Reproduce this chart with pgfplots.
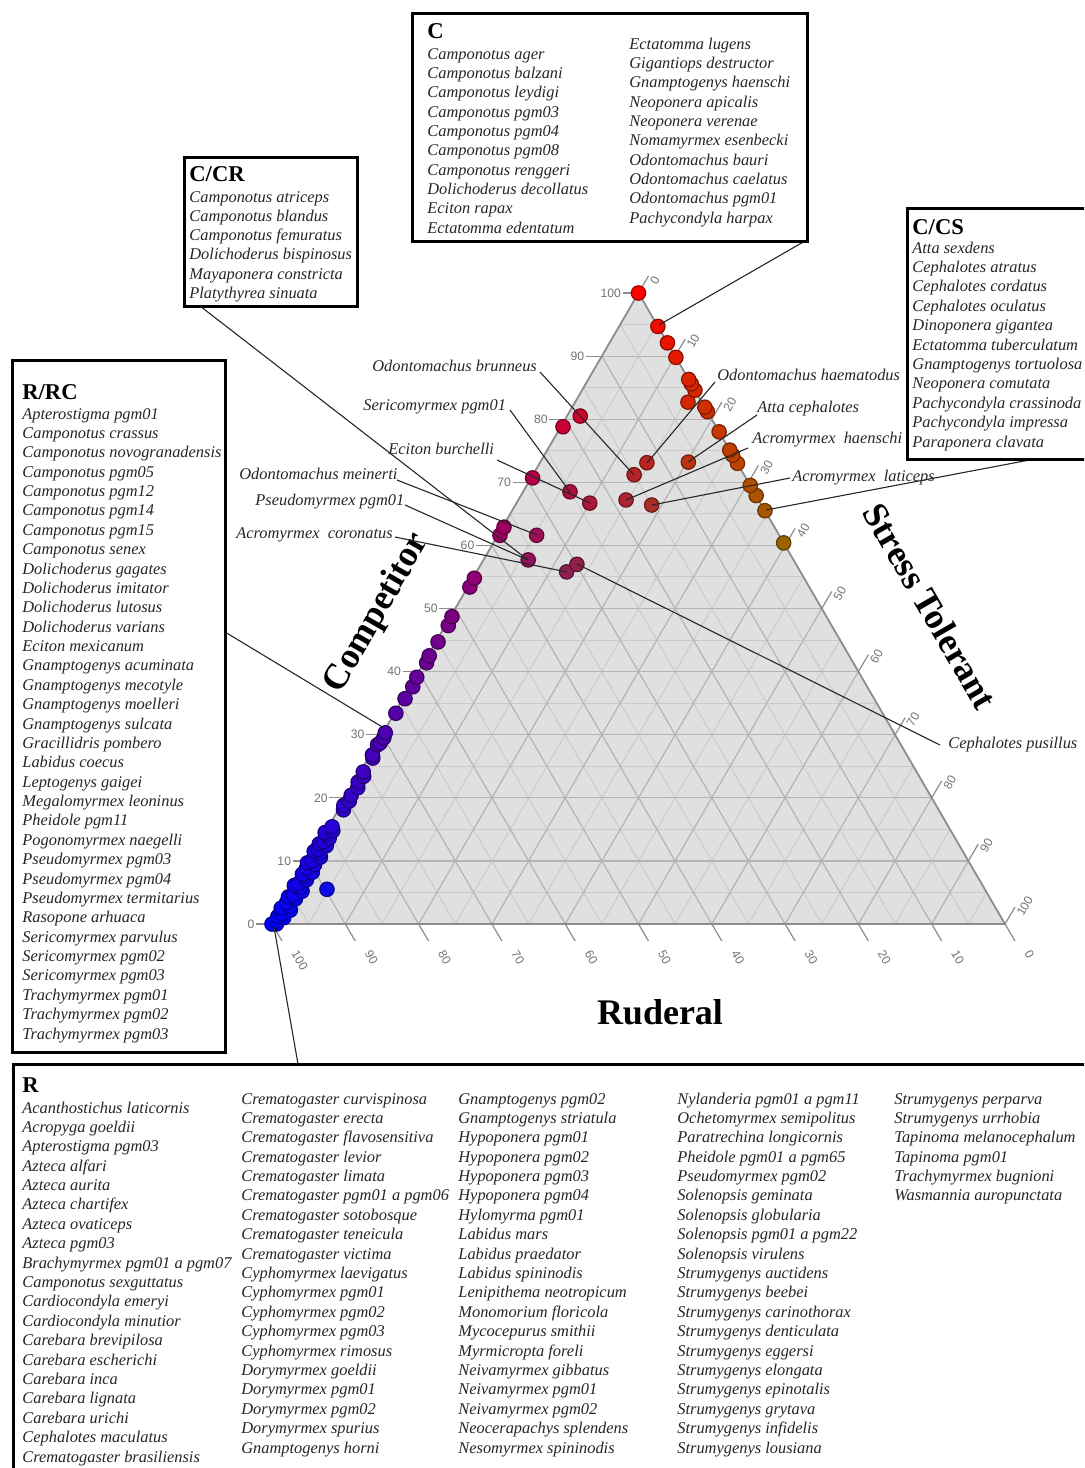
\documentclass[border=0pt]{standalone}
\usepackage{pgfplots}
\pgfplotsset{compat=1.18}
\usepackage{pgfplotstable}
\usepackage{fontspec}
\setmainfont{Liberation Serif}
\newfontfamily\lsans{Liberation Sans}
\definecolor{trifill}{RGB}{224,224,224}
\definecolor{gridmaj}{RGB}{180,180,180}
\definecolor{gridmin}{RGB}{203,203,203}
\definecolor{edgec}{RGB}{140,140,140}
\definecolor{ticklab}{RGB}{115,115,115}

% C = Competitor %, S = Stress tolerant %, R = 100 - C - S
\pgfplotstableread{
C S
0.0 0.6
0.0 0.0
0.5 0.4
1.0 1.1
1.2 0.2
1.6 0.5
2.2 1.4
2.5 0.0
2.8 1.0
3.4 0.3
4.0 1.2
4.3 0.1
4.6 0.6
5.2 1.5
5.8 1.0
6.1 0.0
6.4 0.4
7.0 1.2
7.6 0.7
7.9 0.2
8.2 1.4
8.8 0.3
9.4 1.1
9.7 0.0
10.0 0.5
10.6 1.3
11.2 0.9
11.5 0.0
11.8 0.4
12.4 1.2
12.7 0.1
13.0 0.5
13.6 1.0
14.2 0.3
14.5 0.0
14.8 0.9
15.4 0.5
5.5 4.75
18.1 0.7
18.8 0.4
19.5 0.8
20.4 0.6
21.6 0.9
22.5 0.5
23.4 0.8
24.1 0.4
26.3 0.6
26.8 0.3
28.4 0.2
28.7 0.4
29.5 0.5
30.3 0.3
33.4 0.2
35.7 0.3
37.6 0.4
39.1 0.2
41.4 0.4
42.5 0.2
44.7 0.3
47.3 0.4
48.7 0.2
53.4 0.3
54.8 0.2
57.7 6.1
55.8 12.3
57.0 13.1
61.6 0.3
62.9 0.2
61.6 5.3
66.7 10.0
68.5 6.4
70.7 0.2
78.8 0.3
80.5 1.8
67.2 14.7
66.4 18.6
71.2 13.8
73.1 14.6
73.2 20.2
60.4 39.6
65.5 34.5
67.9 32.1
69.5 30.5
73.0 27.0
74.3 25.7
75.1 24.9
78.0 22.0
81.2 18.8
81.9 18.1
82.7 15.4
84.6 15.4
85.6 14.4
86.3 13.7
89.8 10.2
92.1 7.9
94.7 5.3
100 0
}\antdata

\begin{document}
\begin{tikzpicture}[x=0.5pt,y=0.5pt,
  sp/.style={font=\fontsize{8.2}{9.7}\selectfont\itshape, inner sep=0pt, anchor=base west, text=black!85},
  ttl/.style={font=\fontsize{11.3}{13}\selectfont\bfseries, inner sep=0pt, anchor=base west},
  box/.style={draw=black, line width=1.5pt},
  lead/.style={draw=black!85, line width=0.55pt},
  tl/.style={font=\lsans\fontsize{6.1}{7}\selectfont, text=ticklab, inner sep=0.5pt},
  big/.style={font=\fontsize{18}{20}\selectfont\bfseries, inner sep=0pt}]
\useasboundingbox (0,0) rectangle (1084,-1468);
\clip (0,0) rectangle (1084,-1468);

% triangle background and grid
\fill[trifill] (272,-924) -- (1005,-924) -- (638.5,-293) -- cycle;
\foreach \k in {5,15,...,95} {
  \draw[gridmin, line width=0.5pt] ({272+3.665*\k},{-924+6.31*\k}) -- ({272+7.33*(100-\k/2)},{-924+6.31*\k});
  \draw[gridmin, line width=0.5pt] ({272+7.33*\k},-924) -- ({272+7.33*(50+\k/2)},{-924+6.31*(100-\k)});
  \draw[gridmin, line width=0.5pt] ({272+7.33*(100-\k)},-924) -- ({272+3.665*(100-\k)},{-924+6.31*(100-\k)});
}
\foreach \k in {10,20,...,90} {
  \draw[gridmaj, line width=0.6pt] ({272+3.665*\k},{-924+6.31*\k}) -- ({272+7.33*(100-\k/2)},{-924+6.31*\k});
  \draw[gridmaj, line width=0.6pt] ({272+7.33*\k},-924) -- ({272+7.33*(50+\k/2)},{-924+6.31*(100-\k)});
  \draw[gridmaj, line width=0.6pt] ({272+7.33*(100-\k)},-924) -- ({272+3.665*(100-\k)},{-924+6.31*(100-\k)});
}
\draw[edgec, line width=0.9pt] (272,-924) -- (1005,-924) -- (638.5,-293) -- cycle;

% ticks and tick labels
\foreach \k in {0,10,...,100} {
  \draw[edgec, line width=0.6pt] ({272+3.665*\k},{-924+6.31*\k}) -- ++(-16,0) node[tl, anchor=east]{\k};
  \draw[edgec, line width=0.6pt] ({272+7.33*(50+\k/2)},{-924+6.31*(100-\k)}) -- ++(10,17);
  \node[tl, rotate=60, anchor=west] at ({272+7.33*(50+\k/2)+14},{-924+6.31*(100-\k)+8}) {\k};
  \draw[edgec, line width=0.6pt] ({272+7.33*(100-\k)},-924) -- ++(10,-17);
  \node[tl, rotate=-60, anchor=west] at ({272+7.33*(100-\k)+22},-950) {\k};
}

% data
\begin{axis}[at={(136pt,-462pt)}, anchor=south west, x=3.665pt, y=3.155pt,
  xmin=0, xmax=100, ymin=0, ymax=100, hide axis, clip=false, enlargelimits=false]
\addplot[scatter, only marks, mark=*, mark size=3.6pt, line width=0.6pt,
  visualization depends on={\thisrow{C} \as \cval},
  visualization depends on={\thisrow{S} \as \sval},
  scatter/@pre marker code/.code={%
    \pgfmathsetmacro\cc{min(1,max(0,\cval/100))}%
    \pgfmathsetmacro\ss{min(1,max(0,\sval/100))}%
    \pgfmathsetmacro\rr{max(0,1-\cc-\ss)}%
    \definecolor{mc}{rgb}{\cc,\ss,\rr}%
    \colorlet{mcd}{mc!60!black}%
    \pgfsetfillcolor{mc}\pgfsetstrokecolor{mcd}},
  scatter/@post marker code/.code={},
] table[x expr=\thisrow{S}+0.5*\thisrow{C}, y=C] {\antdata};
\end{axis}

% axis titles
\node[big, rotate=60] at (377,-613) {Competitor};
\node[big, rotate=-60] at (930,-606) {Stress Tolerant};
\node[big] at (660,-1012) {Ruderal};

% leader lines
\draw[lead] (805,-241) -- (659,-325);
\draw[lead] (200,-306) -- (528,-560);
\draw[lead] (1040,-458) -- (766,-510);
\draw[lead] (225,-632) -- (384,-728);
\draw[lead] (298,-1064) -- (274,-927);
\draw[lead] (540,-372) -- (634,-475);
\draw[lead] (715,-382) -- (647,-463);
\draw[lead] (510,-410) -- (570,-492);
\draw[lead] (757,-415) -- (688,-462);
\draw[lead] (748,-448) -- (626,-500);
\draw[lead] (790,-478) -- (652,-505);
\draw[lead] (497,-460) -- (590,-503);
\draw[lead] (397,-480) -- (537,-535);
\draw[lead] (405,-505) -- (528,-560);
\draw[lead] (395,-537) -- (567,-572);
\draw[lead] (940,-745) -- (577,-564);

% point labels
\node[sp] at (372,-371) {Odontomachus brunneus};
\node[sp] at (717,-380) {Odontomachus haematodus};
\node[sp] at (363,-410) {Sericomyrmex pgm01};
\node[sp] at (757,-412) {Atta cephalotes};
\node[sp] at (752,-443) {Acromyrmex\hspace{0.5em}haenschi};
\node[sp] at (388,-454) {Eciton burchelli};
\node[sp] at (792,-481) {Acromyrmex\hspace{0.5em}laticeps};
\node[sp] at (239,-479) {Odontomachus meinerti};
\node[sp] at (255,-505) {Pseudomyrmex pgm01};
\node[sp] at (236,-538) {Acromyrmex\hspace{0.5em}coronatus};
\node[sp] at (948,-748) {Cephalotes pusillus};

% box C
\draw[box, fill=white] (412,-13) rectangle (807,-241);
\node[ttl] at (427,-38) {C};
\foreach \n [count=\i from 0] in {Camponotus ager,Camponotus balzani,Camponotus leydigi,Camponotus pgm03,Camponotus pgm04,Camponotus pgm08,Camponotus renggeri,Dolichoderus decollatus,Eciton rapax,Ectatomma edentatum}
  \node[sp] at (427,{-59-19.35*\i}) {\n};
\foreach \n [count=\i from 0] in {Ectatomma lugens,Gigantiops destructor,Gnamptogenys haenschi,Neoponera apicalis,Neoponera verenae,Nomamyrmex esenbecki,Odontomachus bauri,Odontomachus caelatus,Odontomachus pgm01,Pachycondyla harpax}
  \node[sp] at (629,{-49-19.35*\i}) {\n};

% box C/CR
\draw[box, fill=white] (184,-157) rectangle (357,-306);
\node[ttl] at (189,-181) {C/CR};
\foreach \n [count=\i from 0] in {Camponotus atriceps,Camponotus blandus,Camponotus femuratus,Dolichoderus bispinosus,Mayaponera constricta,Platythyrea sinuata}
  \node[sp] at (189,{-202-19.3*\i}) {\n};

% box C/CS
\draw[box, fill=white] (907,-208) rectangle (1095,-459);
\node[ttl] at (912,-234) {C/CS};
\foreach \n [count=\i from 0] in {Atta sexdens,Cephalotes atratus,Cephalotes cordatus,Cephalotes oculatus,Dinoponera gigantea,Ectatomma tuberculatum,Gnamptogenys tortuolosa,Neoponera comutata,Pachycondyla crassinoda,Pachycondyla impressa,Paraponera clavata}
  \node[sp] at (912,{-253-19.4*\i}) {\n};

% box R/RC
\draw[box, fill=white] (12,-360) rectangle (225,-1052);
\node[ttl] at (22,-399) {R/RC};
\foreach \n [count=\i from 0] in {Apterostigma pgm01,Camponotus crassus,Camponotus novogranadensis,Camponotus pgm05,Camponotus pgm12,Camponotus pgm14,Camponotus pgm15,Camponotus senex,Dolichoderus gagates,Dolichoderus imitator,Dolichoderus lutosus,Dolichoderus varians,Eciton mexicanum,Gnamptogenys acuminata,Gnamptogenys mecotyle,Gnamptogenys moelleri,Gnamptogenys sulcata,Gracillidris pombero,Labidus coecus,Leptogenys gaigei,Megalomyrmex leoninus,Pheidole pgm11,Pogonomyrmex naegelli,Pseudomyrmex pgm03,Pseudomyrmex pgm04,Pseudomyrmex termitarius,Rasopone arhuaca,Sericomyrmex parvulus,Sericomyrmex pgm02,Sericomyrmex pgm03,Trachymyrmex pgm01,Trachymyrmex pgm02,Trachymyrmex pgm03}
  \node[sp] at (22,{-419-19.375*\i}) {\n};

% box R
\draw[box, fill=white] (13,-1064) rectangle (1095,-1480);
\node[ttl] at (22,-1092) {R};
\foreach \n [count=\i from 0] in {Acanthostichus laticornis,Acropyga goeldii,Apterostigma pgm03,Azteca alfari,Azteca aurita,Azteca chartifex,Azteca ovaticeps,Azteca pgm03,Brachymyrmex pgm01 a pgm07,Camponotus sexguttatus,Cardiocondyla emeryi,Cardiocondyla minutior,Carebara brevipilosa,Carebara escherichi,Carebara inca,Carebara lignata,Carebara urichi,Cephalotes maculatus,Crematogaster brasiliensis}
  \node[sp] at (22,{-1113-19.39*\i}) {\n};
\foreach \n [count=\i from 0] in {Crematogaster curvispinosa,Crematogaster erecta,Crematogaster flavosensitiva,Crematogaster levior,Crematogaster limata,Crematogaster pgm01 a pgm06,Crematogaster sotobosque,Crematogaster teneicula,Crematogaster victima,Cyphomyrmex laevigatus,Cyphomyrmex pgm01,Cyphomyrmex pgm02,Cyphomyrmex pgm03,Cyphomyrmex rimosus,Dorymyrmex goeldii,Dorymyrmex pgm01,Dorymyrmex pgm02,Dorymyrmex spurius,Gnamptogenys horni}
  \node[sp] at (241,{-1104-19.39*\i}) {\n};
\foreach \n [count=\i from 0] in {Gnamptogenys pgm02,Gnamptogenys striatula,Hypoponera pgm01,Hypoponera pgm02,Hypoponera pgm03,Hypoponera pgm04,Hylomyrma pgm01,Labidus mars,Labidus praedator,Labidus spininodis,Lenipithema neotropicum,Monomorium floricola,Mycocepurus smithii,Myrmicropta foreli,Neivamyrmex gibbatus,Neivamyrmex pgm01,Neivamyrmex pgm02,Neocerapachys splendens,Nesomyrmex spininodis}
  \node[sp] at (458,{-1104-19.39*\i}) {\n};
\foreach \n [count=\i from 0] in {Nylanderia pgm01 a pgm11,Ochetomyrmex semipolitus,Paratrechina longicornis,Pheidole pgm01 a pgm65,Pseudomyrmex pgm02,Solenopsis geminata,Solenopsis globularia,Solenopsis pgm01 a pgm22,Solenopsis virulens,Strumygenys auctidens,Strumygenys beebei,Strumygenys carinothorax,Strumygenys denticulata,Strumygenys eggersi,Strumygenys elongata,Strumygenys epinotalis,Strumygenys grytava,Strumygenys infidelis,Strumygenys lousiana}
  \node[sp] at (677,{-1104-19.39*\i}) {\n};
\foreach \n [count=\i from 0] in {Strumygenys perparva,Strumygenys urrhobia,Tapinoma melanocephalum,Tapinoma pgm01,Trachymyrmex bugnioni,Wasmannia auropunctata}
  \node[sp] at (894,{-1104-19.39*\i}) {\n};
\end{tikzpicture}
\end{document}
